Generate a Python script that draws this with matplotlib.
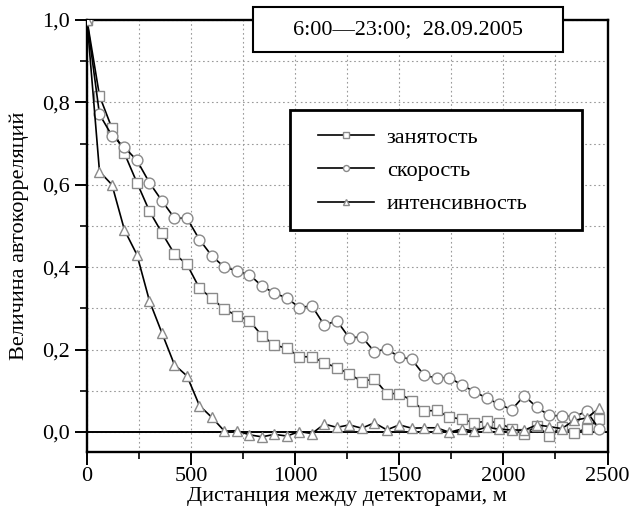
#!/usr/bin/env python3
"""
Autocorrelation vs. detector distance (6:00-23:00, 28.09.2005)
"""
import numpy as np
import matplotlib
matplotlib.use('Agg')
import matplotlib.pyplot as plt
from matplotlib.patches import Rectangle
from matplotlib.ticker import MultipleLocator, FixedLocator, FixedFormatter

# ========== DATA ==========
distance = np.arange(0, 2461, 60)  # m, step between detector pairs

occupancy = [1.000, 0.816, 0.737, 0.676, 0.605, 0.536, 0.483, 0.432, 0.407, 0.349,
             0.324, 0.298, 0.282, 0.270, 0.234, 0.211, 0.203, 0.183, 0.182, 0.168,
             0.156, 0.141, 0.122, 0.129, 0.093, 0.093, 0.076, 0.051, 0.052, 0.036,
             0.031, 0.022, 0.026, 0.022, 0.007, -0.006, 0.015, -0.010, 0.012, -0.002,
             0.008, 0.032]

speed = [1.000, 0.771, 0.719, 0.691, 0.659, 0.605, 0.561, 0.519, 0.519, 0.467,
         0.427, 0.400, 0.391, 0.382, 0.354, 0.337, 0.325, 0.302, 0.306, 0.259,
         0.270, 0.228, 0.231, 0.195, 0.201, 0.182, 0.176, 0.137, 0.131, 0.132,
         0.114, 0.098, 0.082, 0.067, 0.054, 0.088, 0.060, 0.040, 0.039, 0.037,
         0.050, 0.007]

flow = [1.000, 0.632, 0.600, 0.490, 0.430, 0.318, 0.240, 0.163, 0.136, 0.064,
        0.035, 0.002, 0.003, -0.007, -0.012, -0.006, -0.010, 0.001, -0.004, 0.019,
        0.011, 0.017, 0.009, 0.022, 0.005, 0.017, 0.009, 0.010, 0.010, -0.001,
        0.007, 0.002, 0.012, 0.006, 0.005, 0.004, 0.017, 0.013, 0.008, 0.028,
        0.034, 0.057]

series_labels = ['занятость', 'скорость', 'интенсивность']
x_ticks = [0, 500, 1000, 1500, 2000, 2500]
y_ticks = [0.0, 0.2, 0.4, 0.6, 0.8, 1.0]
y_tick_labels = ['0,0', '0,2', '0,4', '0,6', '0,8', '1,0']
title_text = '6:00\u201423:00;  28.09.2005'

# ========== STYLE ==========
FONT_SIZE = 16
LINE_WIDTH = 1.2
MARKER_SIZE = 7.8
EDGE_GREY = '#8a8a8a'
SPINE_WIDTH = 1.7

plt.rcParams['font.family'] = ['Liberation Serif', 'DejaVu Serif']
plt.rcParams['font.size'] = FONT_SIZE

fig = plt.figure(figsize=(6.43, 5.19), dpi=100)
ax = fig.add_axes([0.1353, 0.1297, 0.9448 - 0.1353, 0.9615 - 0.1297])

markers = ['s', 'o', '^']
handles = []
for values, mk, lab in zip([occupancy, speed, flow], markers, series_labels):
    h, = ax.plot(distance, values, color='black', lw=LINE_WIDTH, marker=mk,
                 markersize=MARKER_SIZE, markerfacecolor='white',
                 markeredgecolor=EDGE_GREY, markeredgewidth=1.0, label=lab,
                 zorder=3)
    handles.append(h)

ax.axhline(0, color='black', lw=1.4, zorder=2)

ax.set_xlim(0, 2500)
ax.set_ylim(-0.048, 1.0)

ax.xaxis.set_major_locator(FixedLocator(x_ticks))
ax.xaxis.set_minor_locator(MultipleLocator(250))
ax.yaxis.set_major_locator(FixedLocator(y_ticks))
ax.yaxis.set_major_formatter(FixedFormatter(y_tick_labels))
ax.yaxis.set_minor_locator(MultipleLocator(0.1))

ax.tick_params(which='major', direction='out', length=9, width=1.4, labelsize=FONT_SIZE)
ax.tick_params(which='minor', direction='out', length=5, width=1.2)
ax.tick_params(axis='x', pad=2)

ax.grid(True, which='both', color='#9a9a9a', linestyle=(0, (1.5, 2.5)), linewidth=0.8)
ax.set_axisbelow(True)

for s in ax.spines.values():
    s.set_linewidth(SPINE_WIDTH)

ax.set_xlabel('Дистанция между детекторами, м', fontsize=FONT_SIZE, labelpad=1)
ax.set_ylabel('Величина автокорреляций', fontsize=FONT_SIZE, labelpad=9)

# title box overlapping top spine
fig.add_artist(Rectangle((252.7 / 643, 1 - 51.7 / 519), (563 - 252.7) / 643, (51.7 - 7.3) / 519,
                         transform=fig.transFigure, facecolor='white', edgecolor='black',
                         lw=1.5, zorder=10))
fig.text(408 / 643, 1 - 30 / 519, title_text, ha='center', va='center',
         fontsize=FONT_SIZE, zorder=11)

# legend box
fig.add_artist(Rectangle((290 / 643, 1 - 230 / 519), (581.7 - 290) / 643, (230 - 110) / 519,
                         transform=fig.transFigure, facecolor='white', edgecolor='black',
                         lw=2.0, zorder=10))
leg = fig.legend(handles=handles, loc='upper left',
                 bbox_to_anchor=(318 / 643, 1 - 127 / 519),
                 frameon=False, borderpad=0, borderaxespad=0,
                 handlelength=2.5, handletextpad=0.6, labelspacing=0.58,
                 markerscale=0.55, fontsize=FONT_SIZE)
leg.set_zorder(12)

fig.savefig('out.png', dpi=100)
